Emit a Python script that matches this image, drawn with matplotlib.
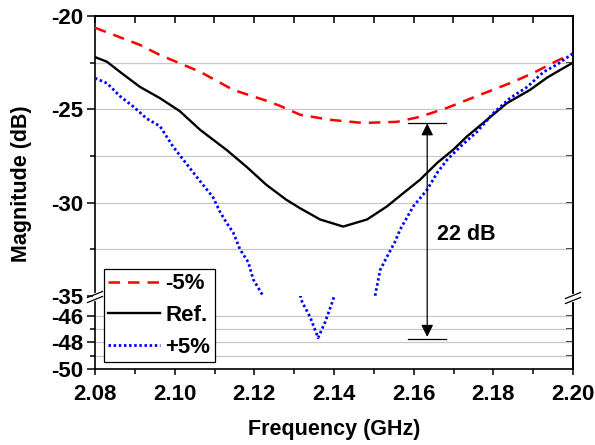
# plot.py
# 주파수 응답 비교 차트 (broken y-axis)

import matplotlib
matplotlib.use("Agg")
import matplotlib.pyplot as plt
from matplotlib.lines import Line2D
from matplotlib.patches import ConnectionPatch
from matplotlib.ticker import FixedLocator, MultipleLocator

plt.rcParams["font.family"] = ["Liberation Sans", "DejaVu Sans"]
plt.rcParams["font.weight"] = "bold"
plt.rcParams["font.size"] = 16
plt.rcParams["axes.unicode_minus"] = False

# -5% 곡선
freq_m5 = [2.080, 2.0913, 2.0963, 2.1064, 2.1147, 2.1232, 2.1264, 2.1315, 2.139,
           2.1473, 2.1558, 2.1616, 2.1684, 2.1767, 2.185, 2.1905, 2.196, 2.1975]
mag_m5 = [-20.63, -21.55, -22.09, -22.99, -23.96, -24.55, -24.81, -25.29, -25.56,
          -25.73, -25.67, -25.4, -24.92, -24.22, -23.53, -23.0, -22.4, -22.25]

# 기준 곡선
freq_ref = [2.080, 2.083, 2.0863, 2.0913, 2.0963, 2.1013, 2.1064, 2.113, 2.118,
            2.123, 2.128, 2.1315, 2.1365, 2.1423, 2.1483, 2.1533, 2.1574, 2.1616,
            2.1659, 2.1699, 2.1734, 2.1784, 2.1834, 2.1892, 2.1935, 2.1967, 2.200]
mag_ref = [-22.2, -22.45, -23.0, -23.8, -24.4, -25.1, -26.1, -27.17, -28.07,
           -29.04, -29.84, -30.3, -30.9, -31.28, -30.9, -30.2, -29.49, -28.77,
           -27.87, -27.17, -26.45, -25.56, -24.67, -23.96, -23.3, -22.9, -22.5]

# +5% 곡선
freq_p5 = [2.080, 2.083, 2.0863, 2.0896, 2.093, 2.0963, 2.0996, 2.1029, 2.1062,
           2.1096, 2.1114, 2.1131, 2.1147, 2.1164, 2.1185, 2.1197, 2.1222,
           2.132, 2.134, 2.136, 2.1377, 2.1395,
           2.1503, 2.1516, 2.1533, 2.1553, 2.1566, 2.1599, 2.1634, 2.1659, 2.1684,
           2.1717, 2.1759, 2.180, 2.1842, 2.1885, 2.1926, 2.196, 2.200]
mag_p5 = [-23.33, -23.6, -24.3, -24.85, -25.5, -25.9, -27.0, -27.9, -28.8,
          -29.7, -30.5, -31.1, -31.6, -32.5, -33.2, -34.1, -35.0,
          -44.95, -46.08, -47.65, -46.52, -45.02,
          -35.0, -33.6, -32.9, -32.1, -31.44, -30.2, -29.3, -28.4, -27.7,
          -27.0, -26.2, -25.2, -24.4, -23.8, -23.0, -22.6, -22.0]

labels = ["-5%", "Ref.", "+5%"]

# 22 dB 표시
span_freq = 2.1634
span_top, span_bot = -25.75, -47.73
span_text = "22 dB"

W, H = 595, 445


def fx(px):
    return px / W


def fy(py):
    return 1 - py / H


fig = plt.figure(figsize=(W / 100, H / 100), dpi=100)
x0, x1 = 95, 573
y_top, y_brk, y_bot = 16, 296, 369
ax_top = fig.add_axes([fx(x0), fy(y_brk), fx(x1) - fx(x0), fy(y_top) - fy(y_brk)])
ax_bot = fig.add_axes([fx(x0), fy(y_bot), fx(x1) - fx(x0), fy(y_brk) - fy(y_bot)])

styles = [
    dict(color="#ff0000", lw=1.8, linestyle=(0, (4.6, 3.2))),
    dict(color="black", lw=1.7, linestyle="-"),
    dict(color="#0000ff", lw=2.0, linestyle=(0, (0.9, 0.95))),
]
series = [(freq_m5, mag_m5), (freq_ref, mag_ref), (freq_p5, mag_p5)]

for ax in (ax_top, ax_bot):
    for (f, m), st in zip(series, styles):
        ax.plot(f, m, **st, zorder=3)
    ax.set_xlim(2.08, 2.20)
    for side in ax.spines.values():
        side.set_linewidth(1.2)

ax_top.set_ylim(-35, -20)
ax_bot.set_ylim(-50, -44.5)

grid_kw = dict(color="#c8c8c8", lw=0.9, zorder=1)
for v in [-22.5, -25, -27.5, -30, -32.5]:
    ax_top.axhline(v, **grid_kw)
for v in [-46, -47, -48, -49]:
    ax_bot.axhline(v, **grid_kw)

ax_top.spines["bottom"].set_visible(False)
ax_bot.spines["top"].set_visible(False)

# 눈금
ax_top.yaxis.set_major_locator(FixedLocator([-35, -30, -25, -20]))
ax_top.yaxis.set_minor_locator(FixedLocator([-32.5, -27.5, -22.5]))
ax_bot.yaxis.set_major_locator(FixedLocator([-50, -48, -46]))
ax_bot.yaxis.set_minor_locator(FixedLocator([-49, -47]))
ax_top.set_yticklabels(["-35", "-30", "-25", "-20"])
ax_bot.set_yticklabels(["-50", "-48", "-46"])

for ax in (ax_top, ax_bot):
    ax.tick_params(axis="y", which="major", direction="out", length=5.8, width=1.1, pad=3.0)
    ax.tick_params(axis="y", which="minor", direction="out", length=3.5, width=1.1)

ax_top.tick_params(axis="x", which="both", bottom=False, labelbottom=False)
ax_bot.xaxis.set_major_locator(MultipleLocator(0.02))
ax_bot.xaxis.set_minor_locator(MultipleLocator(0.01))
ax_bot.set_xticks([2.08, 2.10, 2.12, 2.14, 2.16, 2.18, 2.20])
ax_bot.set_xticklabels(["2.08", "2.10", "2.12", "2.14", "2.16", "2.18", "2.20"])
ax_bot.tick_params(axis="x", which="major", direction="out", length=4.5, width=1.1, pad=6.5)
ax_bot.tick_params(axis="x", which="minor", direction="out", length=3.5, width=1.1)

# 오른쪽/위쪽 안쪽 눈금
sec_r1 = ax_top.secondary_yaxis("right")
sec_r1.set_yticks([-32.5, -30, -27.5, -25, -22.5])
sec_r1.tick_params(direction="in", length=5, width=1.1, labelright=False)
sec_r1.spines["right"].set_linewidth(1.2)
sec_r2 = ax_bot.secondary_yaxis("right")
sec_r2.set_yticks([-49, -48, -47, -46])
sec_r2.tick_params(direction="in", length=5, width=1.1, labelright=False)
sec_r2.spines["right"].set_linewidth(1.2)
sec_t = ax_top.secondary_xaxis("top")
sec_t.set_xticks([2.08, 2.09, 2.10, 2.11, 2.12, 2.13, 2.14, 2.15, 2.16, 2.17, 2.18, 2.19, 2.20])
sec_t.tick_params(direction="in", length=5, width=1.1, labeltop=False)
sec_t.spines["top"].set_linewidth(1.2)

# 축 끊김 표시
for cx, cy1, cy2 in [(x0, 294.5, 299.5), (x1, 295.5, 300.5)]:
    fig.add_artist(Line2D([fx(cx), fx(cx)], [fy(cy1 + 0.5), fy(cy2 - 0.5)],
                          color="white", lw=3, transform=fig.transFigure, zorder=5))
    for cy in (cy1, cy2):
        fig.add_artist(Line2D([fx(cx - 7.5), fx(cx + 7.5)], [fy(cy + 3), fy(cy - 3)],
                              color="black", lw=0.9, transform=fig.transFigure, zorder=6))

# 22 dB 화살표
ax_top.plot([2.1586, 2.1681], [span_top, span_top], color="black", lw=0.9, zorder=4)
ax_bot.plot([2.1586, 2.1681], [span_bot, span_bot], color="black", lw=0.9, zorder=4)
con = ConnectionPatch(xyA=(span_freq, span_top), coordsA=ax_top.transData,
                      xyB=(span_freq, span_bot + 0.15), coordsB=ax_bot.transData,
                      arrowstyle="<|-|>", mutation_scale=18, color="black", lw=0.9,
                      shrinkA=0, shrinkB=0, zorder=6)
fig.add_artist(con)
ax_top.text(2.1659, -31.7, span_text, ha="left", va="center", fontsize=15.5, fontweight="bold")

# 범례
handles = [Line2D([], [], **st) for st in styles]
leg = fig.legend(handles, labels, loc="upper left", bbox_to_anchor=(fx(104), fy(269)),
                 frameon=True, fancybox=False, framealpha=1, edgecolor="black",
                 borderpad=0.2, handlelength=2.3, handletextpad=0.25, labelspacing=0.48,
                 borderaxespad=0, prop=dict(size=16, weight="bold"))
leg.get_frame().set_linewidth(0.9)
leg.set_zorder(7)

fig.text(fx(334), fy(430), "Frequency (GHz)", ha="center", va="center", fontsize=15.5, fontweight="bold")
fig.text(fx(22), fy(184), "Magnitude (dB)", ha="center", va="center", rotation=90,
         fontsize=15.5, fontweight="bold")

fig.savefig("out.png", dpi=100)
